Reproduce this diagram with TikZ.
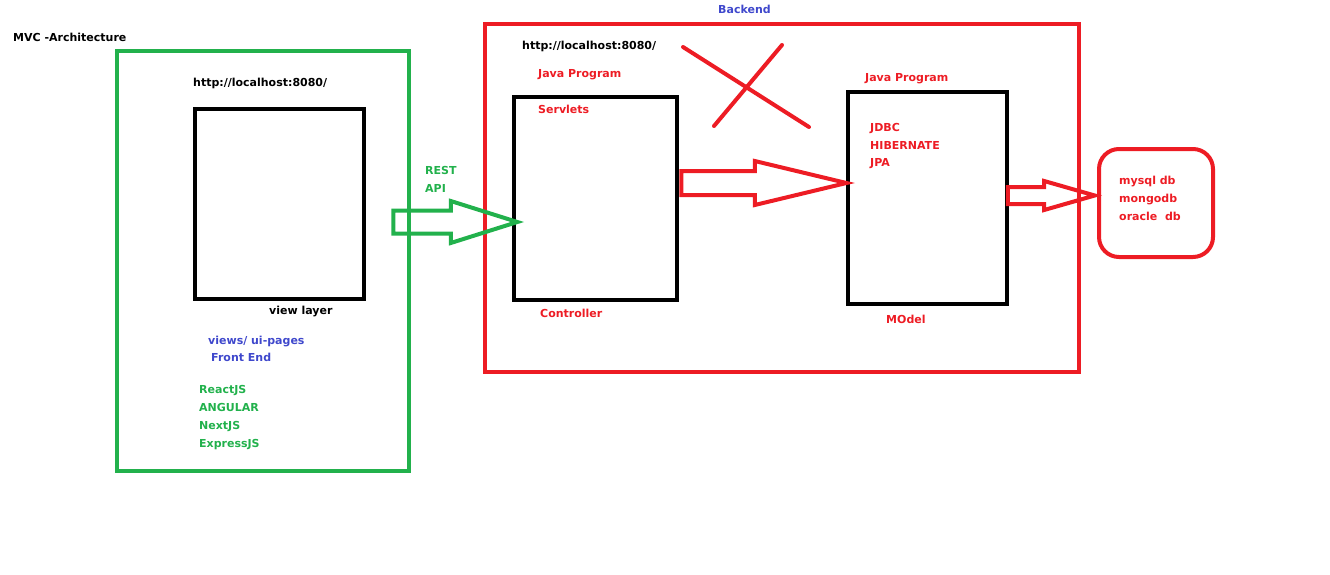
\documentclass[tikz,border=0pt]{standalone}
\usepackage{fontspec}
\setmainfont{DejaVu Sans}
\usetikzlibrary{shapes.arrows,calc}
\definecolor{paintgreen}{RGB}{34,177,76}
\definecolor{paintred}{RGB}{237,28,36}
\definecolor{paintblue}{RGB}{63,72,204}
\tikzset{%
  font=\fontsize{11}{18}\selectfont\bfseries,
  frame/.style    = { draw, rectangle, line width=4pt, inner sep=0pt },
  lbl/.style      = { inner sep=0pt, anchor=base west },
  lst/.style      = { inner sep=0pt, anchor=north west, align=left },
  blockarrow/.style = { draw, single arrow, line width=4pt, inner xsep=0pt, anchor=tip, single arrow head indent=0pt },
  cross/.style    = { draw=paintred, line width=4pt, line cap=round }
}

\begin{document}
\begin{tikzpicture}[x=1pt,y=-1pt]
	\useasboundingbox (0,0) rectangle (1330,574);
	\node[lbl] (title) at (13,41) {MVC -Architecture};

	% front end
	\node[frame,draw=paintgreen,minimum width=292pt,minimum height=420pt] (front) at (263,261) {};
	\node[frame,minimum width=169pt,minimum height=190pt] (view) at (279.5,204) {};
	\node[lbl] (url1) at (193,86) {http://localhost:8080/};
	\node[lbl] (viewlbl) at (269,314) {view layer};
	\node[lbl,text=paintblue] (uipages) at (208,344) {views/ ui-pages};
	\node[lbl,text=paintblue] (frontlbl) at (211,361) {Front End};
	\node[lst,text=paintgreen] (libs) at (199,385.5) {ReactJS\\ANGULAR\\NextJS\\ExpressJS};

	% backend
	\node[frame,draw=paintred,minimum width=594pt,minimum height=348pt] (back) at (782,198) {};
	\node[lbl,text=paintblue] (backlbl) at (718,13) {Backend};
	\node[lbl] (url2) at (522,49) {http://localhost:8080/};
	\node[frame,minimum width=163pt,minimum height=203pt] (ctrl) at (595.5,198.5) {};
	\node[lbl,text=paintred] (java1) at (538,77) {Java Program};
	\node[lbl,text=paintred] (servlets) at (538,113) {Servlets};
	\node[lbl,text=paintred] (ctrllbl) at (540,317) {Controller};
	\node[frame,minimum width=159pt,minimum height=212pt] (model) at (927.5,198) {};
	\node[lbl,text=paintred] (java2) at (865,81) {Java Program};
	\node[lst,text=paintred,font=\fontsize{11}{17.5}\selectfont\bfseries] (orm) at (870,123.6) {JDBC\\HIBERNATE\\JPA};
	\node[lbl,text=paintred] (modellbl) at (886,323) {MOdel};

	% database
	\node[frame,draw=paintred,rounded corners=20pt,minimum width=114pt,minimum height=108pt] (db) at (1156,203) {};
	\node[lst,text=paintred] (dbs) at (1119,175.6) {mysql db\\mongodb\\oracle\ \ db};

	% rest api
	\node[lst,text=paintgreen] (rest) at (425,166.6) {REST\\API};

	% crossed out
	\draw[cross] (683,47) -- (809,127);
	\draw[cross] (714,126) -- (782,45);

	% block arrows
	\node[blockarrow,draw=paintgreen,inner ysep=9.5pt,minimum height=124pt,minimum width=38pt,
		single arrow head extend=9.5pt,single arrow tip angle=35] (apiarrow) at ([xshift=12pt,yshift=-23.5pt]ctrl.west) {};
	\node[blockarrow,draw=paintred,inner ysep=10pt,minimum height=165pt,minimum width=40pt,
		single arrow head extend=10pt,single arrow tip angle=27] (ormarrow) at ([xshift=9pt,yshift=15pt]model.west) {};
	\node[blockarrow,draw=paintred,inner ysep=6.5pt,minimum height=87pt,minimum width=25pt,
		single arrow head extend=6pt,single arrow tip angle=32] (dbarrow) at ([xshift=5pt,yshift=7.5pt]db.west) {};
\end{tikzpicture}
\end{document}
